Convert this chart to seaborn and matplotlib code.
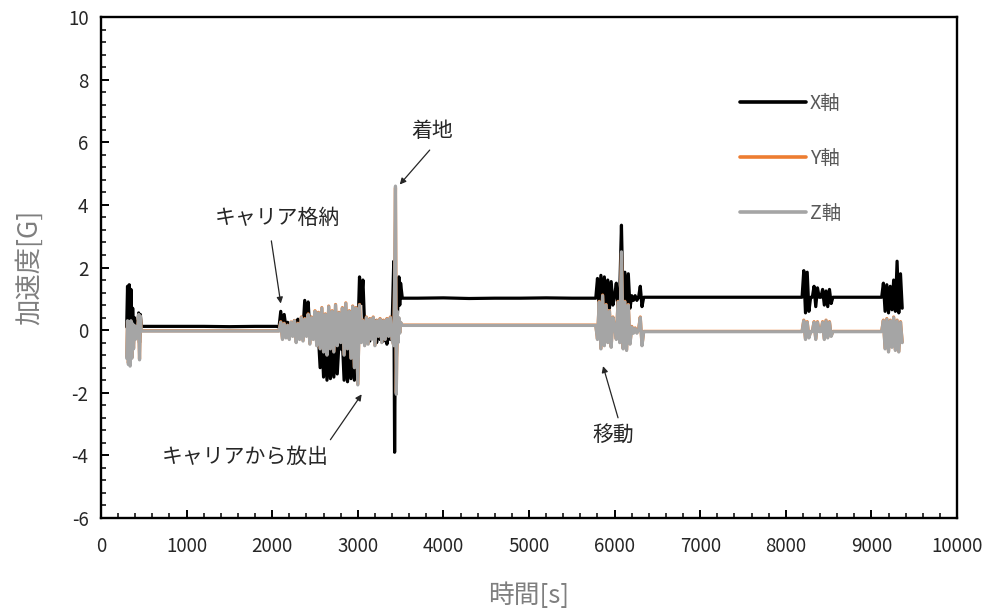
import numpy as np
import pandas as pd
import matplotlib
matplotlib.use("Agg")
import matplotlib.pyplot as plt
import seaborn as sns

# ---------------- data ----------------
time_s = [
    # start burst
    300, 310, 320, 330, 340, 350, 360, 370, 380, 390,
    400, 410, 420, 430, 440, 450, 460, 470,
    # quiet
    600, 900, 1200, 1500, 1800, 2050,
    # carrier storage / release
    2080, 2100, 2120, 2140, 2160, 2180, 2200, 2220, 2240, 2260,
    2280, 2300, 2320, 2340, 2360, 2380, 2400, 2420, 2440, 2460,
    2480, 2500, 2520, 2540, 2560, 2580, 2600, 2620, 2640, 2660,
    2680, 2700, 2720, 2740, 2760, 2780, 2800, 2820, 2840, 2860,
    2880, 2900, 2920, 2940, 2960, 2980, 3000, 3020, 3040, 3060,
    3080, 3100, 3120, 3140, 3160, 3180, 3200, 3220, 3240, 3260,
    3280, 3300, 3320, 3340, 3360, 3380, 3400, 3420,
    # landing
    3430, 3440, 3450, 3460, 3470, 3480, 3490, 3500, 3520,
    # quiet
    3700, 4000, 4300, 4600, 4900, 5200, 5500, 5760,
    # movement
    5780, 5800, 5820, 5840, 5860, 5880, 5900, 5920, 5940, 5960,
    5980, 6000, 6020, 6040, 6060, 6080, 6100, 6120, 6140, 6160,
    6180, 6200, 6220, 6240, 6260, 6280, 6300, 6320, 6340,
    # quiet
    6500, 7000, 7500, 8000, 8190,
    # burst
    8210, 8230, 8250, 8270, 8290, 8310, 8330, 8350, 8370, 8390,
    8410, 8430, 8450, 8470, 8490, 8510, 8530, 8550,
    # quiet
    8700, 8900, 9100,
    # last burst
    9120, 9140, 9160, 9180, 9200, 9220, 9240, 9260, 9280, 9300,
    9320, 9340, 9360,
]

accel_x = [
    0.10, 1.40, -0.60, 1.45, -0.50, 1.30, -0.30, 0.70, 0.00, 0.40,
    0.05, 0.25, 0.10, 0.20, 0.55, -0.40, 0.50, 0.12,
    0.12, 0.12, 0.12, 0.11, 0.12, 0.12,
    0.10, 0.60, 0.05, 0.50, 0.10, 0.25, -0.05, 0.20, 0.00, 0.30,
    0.05, 0.35, -0.10, 0.30, 0.00, 0.95, 0.10, 0.90, -0.05, 0.30,
    -0.10, 0.40, -0.40, -0.20, -1.20, -0.30, -1.50, -0.25, -1.60, -0.30,
    -1.55, -0.35, -1.50, -0.30, -1.40, -0.40, -0.60, -0.35, -1.60, -0.30,
    -1.65, -0.30, -1.55, -0.40, -1.60, -0.50, -0.20, 1.70, 0.85, 1.60,
    0.10, -0.30, 0.30, -0.35, 0.20, -0.25, 0.30, -0.40, 0.15, -0.30,
    0.30, -0.35, 0.20, -0.45, 0.10, -0.30, 0.05, 2.20,
    -3.90, 0.40, -1.00, 0.30, 0.90, 1.70, 0.80, 1.50, 1.02,
    1.02, 1.03, 1.01, 1.02, 1.02, 1.03, 1.02, 1.02,
    1.02, 1.65, 0.70, 1.75, 0.65, 1.70, 0.75, 1.60, 0.70, 1.55,
    0.80, 1.10, 1.50, 0.70, 1.20, 3.35, 0.65, 1.85, 0.60, 1.80,
    0.70, 1.10, 0.95, 1.10, 0.95, 1.05, 1.40, 0.75, 1.05,
    1.05, 1.05, 1.05, 1.05, 1.05,
    1.90, 0.55, 1.85, 0.60, 1.05, 1.05, 1.40, 0.75, 1.35, 1.05,
    1.05, 1.30, 0.80, 1.25, 0.75, 1.30, 0.85, 1.05,
    1.05, 1.05, 1.05,
    1.05, 1.50, 0.60, 1.45, 0.55, 1.40, 0.65, 1.60, 0.60, 2.20,
    0.55, 1.80, 0.70,
]

accel_y = [
    -0.85, 0.28, -1.05, 0.22, -1.10, 0.28, -0.88, 0.18, -0.58, 0.13,
    -0.28, 0.09, -0.23, 0.08, 0.48, -0.92, 0.43, -0.02,
    -0.02, -0.02, -0.02, -0.02, -0.02, -0.02,
    -0.02, 0.27, -0.28, 0.22, -0.23, 0.16, -0.28, 0.26, -0.18, 0.31,
    -0.38, 0.22, -0.28, 0.42, -0.33, 0.37, -0.18, 0.52, -0.43, 0.42,
    -0.28, 0.62, -0.48, 0.57, -0.58, 0.72, -0.68, 0.52, -0.78, 0.77,
    -0.58, 0.62, -0.68, 0.82, -0.48, 0.57, -0.38, 0.72, -0.78, 0.87,
    -0.58, 0.62, -0.88, 0.77, -1.18, 0.72, -1.72, 0.82, -0.38, 0.32,
    -0.48, 0.42, -0.43, 0.37, -0.28, 0.42, -0.48, 0.32, -0.18, 0.37,
    -0.38, 0.32, -0.28, 0.37, -0.18, 0.42, -0.28, -0.48,
    1.45, 4.55, -2.00, 0.58, -0.38, 0.38, -0.08, 0.24, 0.16,
    0.16, 0.16, 0.16, 0.16, 0.16, 0.16, 0.16, 0.16,
    0.16, -0.28, 0.92, -0.58, 1.12, -0.48, 0.82, -0.38, 0.62, -0.53,
    0.42, 0.12, -0.28, 0.92, -0.38, 2.45, -0.58, 0.92, -0.63, 0.82,
    -0.43, 0.12, -0.08, 0.07, -0.08, 0.02, 0.42, -0.48, -0.04,
    -0.04, -0.04, -0.04, -0.04, -0.04,
    0.32, -0.28, 0.27, -0.23, -0.04, -0.04, 0.27, -0.28, 0.27, -0.04,
    -0.04, 0.27, -0.28, 0.32, -0.23, 0.27, -0.18, -0.04,
    -0.04, -0.04, -0.04,
    -0.04, 0.32, -0.58, 0.37, -0.68, 0.32, -0.53, 0.42, -0.63, 0.32,
    -0.68, 0.27, -0.38,
]

accel_z = [
    -0.90, 0.30, -1.10, 0.25, -1.15, 0.30, -0.90, 0.20, -0.60, 0.15,
    -0.30, 0.10, -0.25, 0.10, 0.50, -0.95, 0.45, -0.03,
    -0.03, -0.03, -0.03, -0.03, -0.03, -0.03,
    -0.03, 0.25, -0.30, 0.20, -0.25, 0.15, -0.30, 0.25, -0.20, 0.30,
    -0.40, 0.20, -0.30, 0.40, -0.35, 0.35, -0.20, 0.50, -0.45, 0.40,
    -0.30, 0.60, -0.50, 0.55, -0.60, 0.70, -0.70, 0.50, -0.80, 0.75,
    -0.60, 0.60, -0.70, 0.80, -0.50, 0.55, -0.40, 0.70, -0.80, 0.85,
    -0.60, 0.60, -0.90, 0.75, -1.20, 0.70, -1.75, 0.80, -0.40, 0.30,
    -0.50, 0.40, -0.45, 0.35, -0.30, 0.40, -0.50, 0.30, -0.20, 0.35,
    -0.40, 0.30, -0.30, 0.35, -0.20, 0.40, -0.30, -0.50,
    1.50, 4.60, -2.05, 0.60, -0.40, 0.40, -0.10, 0.25, 0.15,
    0.15, 0.15, 0.15, 0.15, 0.15, 0.15, 0.15, 0.15,
    0.15, -0.30, 0.90, -0.60, 1.10, -0.50, 0.80, -0.40, 0.60, -0.55,
    0.40, 0.10, -0.30, 0.90, -0.40, 2.50, -0.60, 0.90, -0.65, 0.80,
    -0.45, 0.10, -0.10, 0.05, -0.10, 0.00, 0.40, -0.50, -0.05,
    -0.05, -0.05, -0.05, -0.05, -0.05,
    0.30, -0.30, 0.25, -0.25, -0.05, -0.05, 0.25, -0.30, 0.25, -0.05,
    -0.05, 0.25, -0.30, 0.30, -0.25, 0.25, -0.20, -0.05,
    -0.05, -0.05, -0.05,
    -0.05, 0.30, -0.60, 0.35, -0.70, 0.30, -0.55, 0.40, -0.65, 0.30,
    -0.70, 0.25, -0.40,
]

series_names = ["X軸", "Y軸", "Z軸"]
series_colors = ["#000000", "#ED7D31", "#A5A5A5"]
x_ticks = [0, 1000, 2000, 3000, 4000, 5000, 6000, 7000, 8000, 9000, 10000]
y_ticks = [-6, -4, -2, 0, 2, 4, 6, 8, 10]

annotations = [
    # text, text position (t, g), arrow tail, arrow head
    ("キャリア格納", (2056, 3.58), (1990, 2.85), (2100, 0.85)),
    ("キャリアから放出", (1682, -4.06), (2680, -3.50), (3045, -2.05)),
    ("着地", (3870, 6.36), (3840, 5.75), (3490, 4.65)),
    ("移動", (5981, -3.35), (6040, -2.80), (5865, -1.15)),
]

assert len(time_s) == len(accel_x) == len(accel_y) == len(accel_z)

# ---------------- figure ----------------
sns.set_theme(style="white")
plt.rcParams["font.family"] = ["Noto Sans CJK JP", "DejaVu Sans"]
plt.rcParams["axes.unicode_minus"] = False

df = pd.concat([
    pd.DataFrame({"t": time_s, "g": vals, "axis": name})
    for name, vals in zip(series_names, [accel_x, accel_y, accel_z])
], ignore_index=True)

fig = plt.figure(figsize=(9.9, 6.11), dpi=100)
ax = fig.add_axes([101 / 990, 1 - 518 / 611, (957 - 101) / 990, (518 - 17) / 611])

sns.lineplot(data=df, x="t", y="g", hue="axis", hue_order=series_names,
             palette=series_colors, sort=False, estimator=None,
             linewidth=2.3, legend=False, ax=ax)

ax.set_xlim(0, 10000)
ax.set_ylim(-6, 10)
ax.set_xticks(x_ticks)
ax.set_yticks(y_ticks)
ax.xaxis.set_minor_locator(matplotlib.ticker.MultipleLocator(200))
ax.yaxis.set_minor_locator(matplotlib.ticker.MultipleLocator(0.4))

for s in ax.spines.values():
    s.set_visible(True)
    s.set_color("black")
    s.set_linewidth(1.7)

ax.tick_params(axis="both", which="both", direction="in", color="black",
               bottom=True, left=True, top=False, right=False)
ax.tick_params(axis="both", which="major", length=5.5, width=1.4,
               labelsize=13.5, labelcolor="#262626")
ax.tick_params(axis="both", which="minor", length=3.5, width=1.1)
ax.tick_params(axis="x", which="major", pad=13)
ax.tick_params(axis="y", which="major", pad=9)

ax.set_xlabel("時間[s]", fontsize=18.5, color="#7F7F7F", labelpad=18)
ax.set_ylabel("加速度[G]", fontsize=19, color="#7F7F7F", labelpad=18)

handles = [matplotlib.lines.Line2D([], [], color=c, linewidth=2.6)
           for c in series_colors]
leg = ax.legend(handles, series_names, loc="upper left",
                bbox_to_anchor=(0.746, 0.848), frameon=False,
                fontsize=14, handlelength=3.4, handletextpad=0.2,
                labelspacing=1.75, borderpad=0, borderaxespad=0)
for txt in leg.get_texts():
    txt.set_color("#595959")

for text, tpos, tail, head in annotations:
    ax.text(tpos[0], tpos[1], text, fontsize=15, color="#262626",
            ha="center", va="center")
    ax.annotate("", xy=head, xytext=tail,
                arrowprops=dict(arrowstyle="-|>", color="#262626", lw=0.9,
                                mutation_scale=9, shrinkA=0, shrinkB=0))

fig.savefig("out.png", dpi=100)
